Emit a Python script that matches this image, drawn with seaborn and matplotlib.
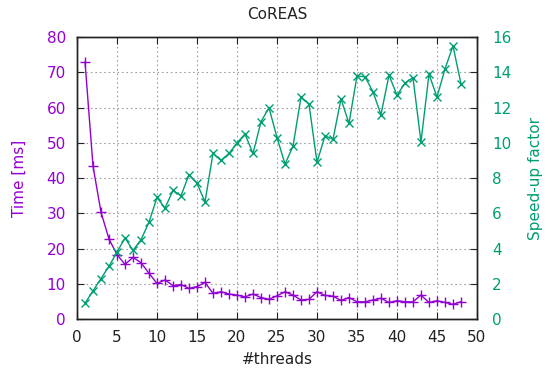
import numpy as np
import pandas as pd
import matplotlib
matplotlib.use("Agg")
import matplotlib.pyplot as plt
import seaborn as sns

# values
threads = list(range(1, 49))
time_ms = [73.0, 43.4, 30.3, 22.7, 18.3, 15.5, 17.5, 16.0, 13.0, 10.1,
           11.1, 9.5, 9.8, 8.7, 9.2, 10.4, 7.3, 7.75, 7.1, 6.8,
           6.3, 7.1, 6.1, 5.6, 6.6, 7.75, 6.8, 5.4, 5.6, 7.75,
           6.7, 6.5, 5.3, 6.1, 4.9, 4.9, 5.4, 5.9, 4.7, 5.2,
           4.9, 4.9, 6.8, 4.7, 5.2, 4.7, 4.2, 4.9]
speedup = [0.9, 1.6, 2.3, 3.0, 3.8, 4.6, 3.9, 4.5, 5.5, 6.9,
           6.3, 7.3, 7.0, 8.2, 7.7, 6.65, 9.4, 9.0, 9.4, 10.0,
           10.5, 9.4, 11.2, 12.0, 10.3, 8.8, 9.8, 12.6, 12.2, 8.9,
           10.4, 10.2, 12.5, 11.1, 13.8, 13.75, 12.9, 11.6, 13.85, 12.7,
           13.4, 13.7, 10.05, 13.9, 12.6, 14.2, 15.5, 13.35]

df = pd.DataFrame({"threads": threads, "time": time_ms, "speedup": speedup})

purple = "#9400D3"
green = "#009E73"
dark = "#222222"

sns.set_style("ticks")
plt.rcParams["font.family"] = ["DejaVu Sans"]
plt.rcParams["font.size"] = 11

fig = plt.figure(figsize=(5.45, 3.68), dpi=100)
ax = fig.add_axes([0.1413, 0.133, 0.7339, 0.766])
ax2 = ax.twinx()

sns.lineplot(data=df, x="threads", y="time", ax=ax, color=purple, lw=1,
             marker="+", markersize=7, markeredgewidth=1, markeredgecolor=purple)
sns.lineplot(data=df, x="threads", y="speedup", ax=ax2, color=green, lw=1,
             marker="x", markersize=6, markeredgewidth=1, markeredgecolor=green)

ax.set_xlim(0, 50)
ax.set_ylim(0, 80)
ax2.set_ylim(0, 16)
ax.set_xticks(range(0, 51, 5))
ax.set_yticks(range(0, 81, 10))
ax2.set_yticks(range(0, 17, 2))

ax.grid(True, color="#a0a0a0", linestyle=(0, (1.5, 2.5)), lw=0.8)
ax.set_axisbelow(True)

ax.tick_params(axis="x", direction="in", top=True, length=5, pad=8,
               colors=dark, labelsize=11)
ax.tick_params(axis="y", direction="in", length=5, pad=8, labelsize=11,
               labelcolor=purple, color=dark)
ax2.tick_params(axis="y", direction="in", length=5, pad=11, labelsize=11,
                labelcolor=green, color=dark)

for a in (ax, ax2):
    for s in a.spines.values():
        s.set_visible(True)
        s.set_color(dark)
        s.set_linewidth(1)

ax.set_xlabel("#threads", fontsize=11, color=dark, labelpad=5)
ax.set_ylabel("Time [ms]", fontsize=11, color=purple, labelpad=14)
ax2.set_ylabel("Speed-up factor", fontsize=11, color=green, labelpad=12)
ax.set_title("CoREAS", fontsize=11, color=dark, pad=13)

fig.savefig("out.png", dpi=100)
